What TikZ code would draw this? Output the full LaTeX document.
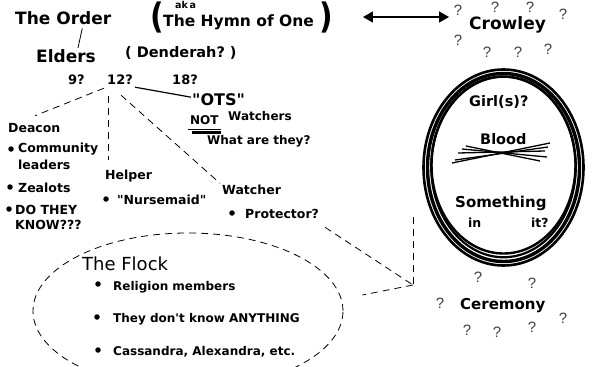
\documentclass[tikz,border=0pt]{standalone}
\usepackage{fontspec}
\setmainfont{DejaVu Sans}
\newfontfamily\qfont{Liberation Sans}
\usetikzlibrary{arrows.meta,shapes.geometric}
\begin{document}
\begin{tikzpicture}[x=1pt,y=-1pt,
  lbl/.style={inner sep=0pt, anchor=base west, font=\bfseries\fontsize{12.5}{14}\selectfont},
  big/.style={lbl, font=\bfseries\fontsize{17}{19}\selectfont},
  mid/.style={lbl, font=\bfseries\fontsize{14.5}{16}\selectfont},
  num/.style={lbl, font=\bfseries\fontsize{13}{15}\selectfont},
  flk/.style={lbl, font=\bfseries\fontsize{12}{14}\selectfont},
  qm/.style={inner sep=0pt, font=\qfont\fontsize{15}{15}\selectfont, text=black!75},
  paren/.style={inner sep=0pt, font=\bfseries\fontsize{27}{27}\selectfont},
  dash line/.style={dash pattern=on 7pt off 5pt, line width=0.8pt},
  dot/.style={circle, fill=black, inner sep=0pt, minimum size=5.5pt},
  ring/.style={ellipse, draw, inner sep=0pt}
]
\useasboundingbox (0,0) rectangle (593,366);
\fill[white] (0,0) rectangle (593,366);

% top row
\node[big] (order) at (15,25) {The Order};
\node[lbl, font=\bfseries\fontsize{9.5}{10}\selectfont] (aka) at (175,9) {ak\,a};
\node[lbl, font=\bfseries\fontsize{15.5}{17}\selectfont] (hymn) at (163,27) {The Hymn of One};
\node[paren] (lp) at (157,17) {\scalebox{1.1}[1.3]{(}};
\node[paren] (rp) at (326,17) {\scalebox{1.1}[1.3]{)}};
\node[big] (crowley) at (469,30) {Crowley};
\draw[line width=1.4pt, {Triangle[length=10pt,width=11pt]}-{Triangle[length=10pt,width=11pt]}]
  ([xshift=30pt]rp.east) -- ([xshift=-20pt]crowley.west |- rp.east);

% question marks round Crowley and Ceremony
\foreach \p in {(458,10),(495,7),(530,7),(563,14),(458,40),(487,52),(518,52),(548,49),
                (478,277),(532,283),(440,303),(563,318),(467,330),(497,332),(532,327)}
  \node[qm] at \p {?};

% elders
\node[big] (elders) at (36,63) {Elders};
\draw[line width=0.8pt] ([shift={(19,3)}]order.south) -- ([shift={(12,-2)}]elders.north);
\node[lbl, font=\bfseries\fontsize{14.5}{16}\selectfont] (dend) at (125,58) {( Denderah?\,\,)};
\node[num] (n9) at (68,85) {9?};
\node[num] (n12) at (107,85) {12?};
\node[num] (n18) at (172,85) {18?};
\node[lbl, font=\bfseries\fontsize{16}{18}\selectfont] (ots) at (192,106) {\textquotedbl OTS\textquotedbl};
\draw[line width=1.2pt] ([shift={(2,2)}]n12.south east) -- ([shift={(-1,-3)}]ots.west);

\node[lbl, font=\bfseries\fontsize{12}{14}\selectfont] (notw) at (190,125) {NOT};
\draw[line width=0.8pt] ([shift={(-2,4)}]notw.base west) -- ([shift={(2,4)}]notw.base east);
\draw[line width=2.4pt] ([shift={(2,7.5)}]notw.base west) -- ([shift={(2,7.5)}]notw.base east);
\node[lbl, font=\bfseries\fontsize{12}{14}\selectfont] (watchers) at (228,121) {Watchers};
\node[lbl, font=\bfseries\fontsize{12}{14}\selectfont] (what) at (207,145) {What are they?};

% deacon
\node[lbl] (deacon) at (8,133) {Deacon};
\node[dot] (d1) at (11,149) {};
\node[lbl] (comm) at (18,153) {Community};
\node[lbl] (lead) at (18,169) {leaders};
\node[dot] (d2) at (10,187) {};
\node[lbl] (zeal) at (18,192) {Zealots};
\node[dot] (d3) at (9,209) {};
\node[lbl] (dothey) at (15,214) {DO THEY};
\node[lbl] (know) at (15,229) {KNOW???};

% helper
\node[lbl] (helper) at (105,179) {Helper};
\node[dot] (d4) at (106,199) {};
\node[lbl] (nurse) at (117,204) {\textquotedbl Nursemaid\textquotedbl};

% watcher
\node[lbl] (watcher) at (222,194) {Watcher};
\node[dot] (d5) at (232,213) {};
\node[lbl] (prot) at (245,218) {Protector?};

% dashed connectors from 12?
\draw[dash line] ([shift={(-3,3)}]n12.south west) -- ([shift={(27,-8)}]deacon.north west);
\draw[dash line] ([shift={(1,11)}]n12.south west) -- ([shift={(3,-9)}]helper.north west);
\draw[dash line] ([shift={(1,10)}]n12.south) -- ([shift={(-2,-1)}]watcher.north west);

% the flock
\node[ellipse, draw, dash line, minimum width=310pt, minimum height=156pt, inner sep=0pt] (flock) at (188,311) {};
\node[lbl, font=\fontsize{18}{20}\selectfont] (flocklbl) at (82,270) {The Flock};
\node[dot] (f1) at (98,284) {};
\node[flk] (rel) at (113,290) {Religion members};
\node[dot] (f2) at (97,317) {};
\node[flk] (dont) at (113,322) {They don\textquotesingle t know ANYTHING};
\node[dot] (f3) at (98,350) {};
\node[flk] (cass) at (113,355) {Cassandra, Alexandra, etc.};

% the oval
\node[ring, line width=2.6pt, minimum width=160pt, minimum height=196pt] (oval) at (503.5,167.5) {};
\node[ring, line width=3.4pt, minimum width=152pt, minimum height=188pt] (oval2) at (503.5,167.5) {};
\node[ring, line width=2.2pt, minimum width=144.5pt, minimum height=180.5pt] (oval3) at (503.5,167) {};
\node[ring, line width=2.4pt, minimum width=144pt, minimum height=177pt] (oval4) at (503.5,165) {};

\node[mid] (girl) at (469,107) {Girl(s)?};
\node[mid] (blood) at (480,145) {Blood};
\draw[line width=1.3pt] (452,163) -- (550,143);
\draw[line width=1.3pt] (455,160) -- (548,147);
\draw[line width=1.3pt] (462,149) -- (547,157);
\draw[line width=1.3pt] (458,153) -- (545,151);
\draw[line width=1.3pt] (466,146) -- (540,161);
\node[mid, font=\bfseries\fontsize{15}{17}\selectfont] (something) at (455,207) {Something};
\node[lbl] (inw) at (468,227) {in};
\node[lbl] (itq) at (531,227) {it?};
\node[mid, font=\bfseries\fontsize{15}{17}\selectfont] (ceremony) at (460,309) {Ceremony};

% bubble tail
\coordinate (tail) at (413,285);
\coordinate (vtop) at (413,217);
\draw[dash line] ([shift={(6,9)}]prot.south east) -- (tail);
\draw[dash line] (vtop) -- (tail);
\draw[dash line] (tail) -- ([shift={(19,-16)}]flock.east);
\end{tikzpicture}
\end{document}
